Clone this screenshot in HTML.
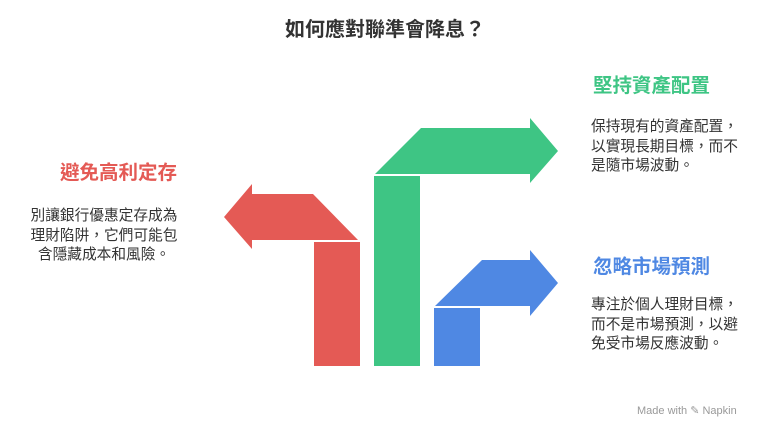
<!DOCTYPE html>
<html><head><meta charset="utf-8"><style>
body{margin:0;width:770px;height:440px;background:#fff;position:relative;overflow:hidden;font-family:"Liberation Sans","Noto Sans CJK TC",sans-serif;}
.t{position:absolute;white-space:nowrap;}
.h{font-size:19.5px;font-weight:bold;line-height:24px;}
.b{font-size:14.7px;line-height:19.7px;color:#333;}
</style></head><body>
<div class="t" style="left:0;width:770px;top:16px;text-align:center;font-size:20px;font-weight:bold;color:#333;line-height:28px;">如何應對聯準會降息？</div>
<svg width="770" height="440" style="position:absolute;left:0;top:0">
<rect x="314" y="242" width="46" height="124" fill="#E45A55"/>
<polygon points="358,240 252,240 252,249 224,217 252,184 252,194 313,194" fill="#E45A55"/>
<rect x="374" y="176" width="46" height="190" fill="#3EC584"/>
<polygon points="375,174 421,128 530,128 530,118 558,151 530,183 530,174" fill="#3EC584"/>
<rect x="434" y="308" width="46" height="58" fill="#4F88E3"/>
<polygon points="435,306 482,260 530,260 530,250 558,283 530,316 530,306" fill="#4F88E3"/>
</svg>
<div class="t h" style="left:60px;top:161px;color:#E45A55;">避免高利定存</div>
<div class="t b" style="left:29px;width:150px;top:207px;text-align:center;">別讓銀行優惠定存成為<br>理財陷阱，它們可能包<br>含隱藏成本和風險。</div>
<div class="t h" style="left:593px;top:74px;color:#3EC584;">堅持資產配置</div>
<div class="t b" style="left:591px;top:118px;">保持現有的資產配置，<br>以實現長期目標，而不<br>是隨市場波動。</div>
<div class="t h" style="left:593px;top:255px;color:#4F88E3;">忽略市場預測</div>
<div class="t b" style="left:591px;top:296px;">專注於個人理財目標，<br>而不是市場預測，以避<br>免受市場反應波動。</div>
<div class="t" style="left:637px;top:404px;font-size:11px;color:#999;">Made with ✎ Napkin</div>
</body></html>
